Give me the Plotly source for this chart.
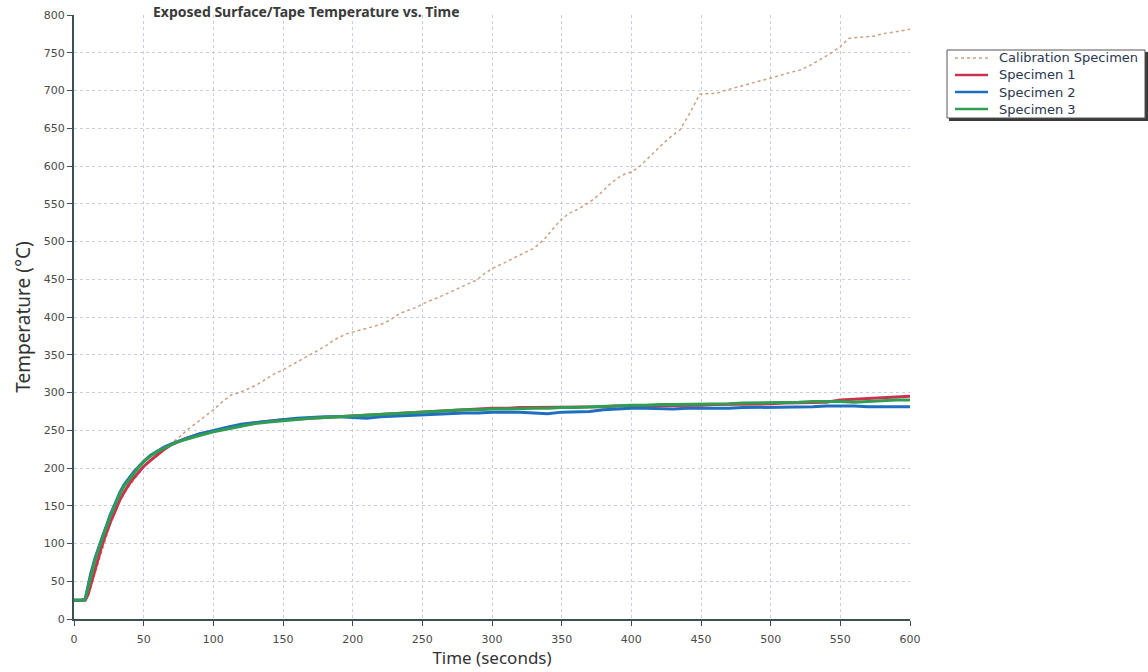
import plotly.graph_objects as go

# ---------------- data ----------------
spec_time = [0, 5, 8, 10, 12, 15, 18, 20, 23, 26, 30, 33, 36, 40, 43, 46, 50, 55, 60, 65, 70, 75, 80,
             90, 100, 110, 120, 130, 140, 150, 160, 170, 180, 190, 200, 210, 220, 230, 240, 250,
             260, 270, 280, 290, 300, 310, 320, 330, 340, 350, 360, 370, 380, 390, 400, 410, 420,
             430, 440, 450, 460, 470, 480, 490, 500, 510, 520, 530, 540, 550, 560, 570, 580, 590, 600]

specimen1 = [25, 25, 25, 32, 45, 65, 85, 97, 113, 128, 145, 158, 168, 180, 187, 194, 202, 210, 218, 225, 231, 235, 239,
             245, 249, 253, 257, 260, 262, 264, 265, 266, 267, 268, 269, 270, 271, 272, 273, 274,
             275, 276, 277, 278, 279, 279, 280, 280, 280, 280, 280, 280, 281, 282, 282, 283, 283,
             283, 283, 283, 284, 284, 284, 285, 285, 286, 286, 287, 287, 290, 291, 292, 293, 294, 295]

specimen2 = [25, 25, 26, 45, 60, 80, 97, 107, 122, 138, 155, 168, 178, 188, 195, 201, 209, 217, 223, 228, 232, 236, 239,
             245, 250, 254, 258, 260, 263, 265, 266, 267, 268, 268, 267, 266, 268, 269, 270, 271,
             272, 273, 273, 273, 274, 274, 274, 273, 272, 274, 274, 275, 277, 278, 279, 279, 278,
             278, 279, 279, 279, 279, 280, 280, 280, 281, 281, 281, 282, 282, 282, 281, 281, 281, 281]

specimen3 = [25, 25, 26, 42, 58, 78, 95, 105, 120, 136, 153, 166, 176, 186, 193, 200, 208, 216, 222, 227, 231, 235, 238,
             243, 248, 252, 256, 259, 261, 263, 265, 266, 267, 268, 269, 270, 271, 272, 273, 274,
             275, 276, 277, 277, 278, 278, 279, 279, 279, 280, 280, 281, 281, 282, 283, 283, 284,
             284, 284, 285, 285, 285, 286, 286, 286, 287, 287, 288, 288, 288, 287, 288, 289, 290, 290]

cal_time = [0, 5, 8, 10, 12, 15, 19, 23, 26, 30, 33, 38, 43, 48, 52, 58, 63, 67, 72, 77, 81, 86, 90, 95, 100,
            106, 113, 119, 125, 131, 138, 144, 150, 156, 162, 169, 175, 181, 187, 191, 196, 200, 206,
            213, 220, 227, 234, 240, 246, 251, 258, 264, 270, 276, 283, 289, 295, 301, 308, 315, 322,
            330, 337, 343, 349, 355, 362, 368, 373, 378, 384, 390, 395, 400, 405, 409, 416, 423, 429,
            435, 442, 449, 455, 461, 467, 473, 478, 484, 490, 495, 500, 507, 514, 521, 528, 535, 542,
            550, 553, 556, 560, 567, 574, 580, 587, 594, 600]

calibration = [25, 25, 25, 30, 42, 60, 82, 106, 125, 143, 157, 172, 184, 196, 206, 216, 223, 228, 235, 243, 250, 257, 263, 270, 277,
               287, 297, 300, 305, 310, 318, 325, 330, 336, 342, 350, 355, 362, 370, 374, 378, 380, 383,
               387, 390, 396, 405, 409, 413, 418, 423, 428, 433, 438, 444, 449, 458, 465, 471, 478, 484,
               491, 502, 515, 528, 537, 543, 550, 556, 564, 575, 584, 589, 592, 598, 605, 618, 630, 640,
               648, 670, 695, 696, 696, 700, 703, 705, 708, 711, 714, 716, 720, 724, 727, 733, 740, 748,
               758, 763, 769, 770, 771, 772, 775, 777, 779, 781]

series_names = ["Calibration Specimen", "Specimen 1", "Specimen 2", "Specimen 3"]
series_colors = ["#cf9f80", "#c8344e", "#1f6ec2", "#2f9e52"]
series_dash = ["dot", "solid", "solid", "solid"]
series_width = [1.5, 3, 3, 3]

x_ticks = list(range(0, 601, 50))
y_ticks = list(range(0, 801, 50))

title_text = "Exposed Surface/Tape Temperature vs. Time"

# ---------------- figure ----------------
W, H = 1148, 672
ML, MR, MT, MB = 74, 238, 15, 53
PW, PH = W - ML - MR, H - MT - MB


def px2x(px):
    return (px - ML) / PW


def px2y(py):
    return (H - MB - py) / PH


fig = go.Figure()
xs = [cal_time, spec_time, spec_time, spec_time]
ys = [calibration, specimen1, specimen2, specimen3]
for name, x, y, c, d, w in zip(series_names, xs, ys, series_colors, series_dash, series_width):
    fig.add_trace(go.Scatter(x=x, y=y, mode="lines", name=name,
                             line=dict(color=c, width=w, dash=d)))

axis_common = dict(
    showgrid=True, gridcolor="#c9cde0", griddash="dot", gridwidth=1,
    showline=True, linecolor="#3e5056", linewidth=2,
    ticks="outside", ticklen=5, tickcolor="#3e5056", tickwidth=1,
    tickfont=dict(family="DejaVu Sans", size=11, color="#4a4a4a"),
    zeroline=False, automargin=False,
    minor=dict(ticks="outside", ticklen=2, tickcolor="#6a7a80"),
)

# legend drawn as a boxed key at the right
shapes = [
    dict(type="rect", xref="paper", yref="paper",
         x0=px2x(949), x1=px2x(1148), y0=px2y(121), y1=px2y(52),
         fillcolor="#3a3a3a", line=dict(width=0), layer="above"),
    dict(type="rect", xref="paper", yref="paper",
         x0=px2x(947), x1=px2x(1145), y0=px2y(118), y1=px2y(50),
         fillcolor="white", line=dict(color="#555555", width=1), layer="above"),
]
annotations = [
    dict(text=f"<b>{title_text}</b>", xref="paper", yref="paper",
         x=px2x(152), y=px2y(1), xanchor="left", yanchor="top", showarrow=False,
         borderpad=0, font=dict(family="Noto Sans", size=14, color="#3a3a3a")),
]
row_y = [58, 75, 92, 109]
for name, c, d, w, ry in zip(series_names, series_colors, series_dash, series_width, row_y):
    shapes.append(dict(type="line", xref="paper", yref="paper",
                       x0=px2x(955), x1=px2x(988), y0=px2y(ry), y1=px2y(ry),
                       line=dict(color=c, width=min(w, 2.5), dash=d), layer="above"))
    annotations.append(dict(text=name, xref="paper", yref="paper",
                            x=px2x(997), y=px2y(ry), xanchor="left", yanchor="middle",
                            showarrow=False,
                            font=dict(family="DejaVu Sans", size=13, color="#2a3550")))

fig.update_layout(
    width=W, height=H,
    margin=dict(l=ML, r=MR, t=MT, b=MB),
    paper_bgcolor="white", plot_bgcolor="white",
    xaxis=dict(axis_common, range=[0, 600], tickvals=x_ticks, ticklabelstandoff=4,
               title=dict(text="Time (seconds)", standoff=6,
                          font=dict(family="Noto Sans", size=17, color="#333333"))),
    yaxis=dict(axis_common, range=[0, 800], tickvals=y_ticks,
               title=dict(text="Temperature (°C)", standoff=8,
                          font=dict(family="Noto Sans", size=19, color="#333333"))),
    showlegend=False,
    shapes=shapes,
    annotations=annotations,
)

fig.write_html("out.html")
